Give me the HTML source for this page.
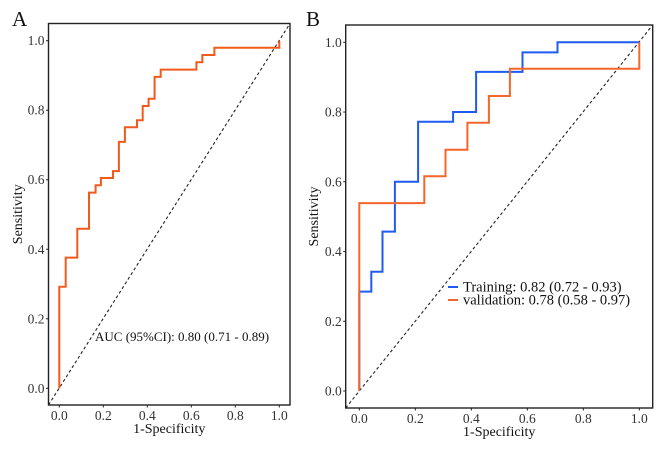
<!DOCTYPE html>
<html><head><meta charset="utf-8"><style>
html,body{margin:0;padding:0;background:#fff;}
svg{display:block;font-family:"Liberation Serif","DejaVu Serif",serif;}
</style></head><body>
<svg id="c" width="669" height="459" viewBox="0 0 669 459"></svg>
<script>
// Panel A data (fpr, sensitivity step points)
const aFpr  = [0,0,0.029,0.029,0.082,0.082,0.135,0.135,0.165,0.165,0.189,0.189,0.244,0.244,0.271,0.271,0.298,0.298,0.353,0.353,0.379,0.379,0.406,0.406,0.433,0.433,0.461,0.461,0.623,0.623,0.65,0.65,0.705,0.705,1.0,1.0];
const aSens = [0,0.292,0.292,0.376,0.376,0.459,0.459,0.563,0.563,0.584,0.584,0.605,0.605,0.625,0.625,0.709,0.709,0.751,0.751,0.771,0.771,0.812,0.812,0.833,0.833,0.896,0.896,0.917,0.917,0.938,0.938,0.959,0.959,0.98,0.98,1.0];
// Panel B data
const trFpr  = [0,0,0.043,0.043,0.083,0.083,0.127,0.127,0.21,0.21,0.335,0.335,0.417,0.417,0.583,0.583,0.708,0.708,1.0];
const trSens = [0,0.285,0.285,0.342,0.342,0.457,0.457,0.600,0.600,0.772,0.772,0.800,0.800,0.915,0.915,0.971,0.971,1.0,1.0];
const vaFpr  = [0,0,0.232,0.232,0.308,0.308,0.386,0.386,0.463,0.463,0.538,0.538,1.0,1.0];
const vaSens = [0,0.539,0.539,0.616,0.616,0.692,0.692,0.769,0.769,0.846,0.846,0.924,0.924,1.0];
const ticks = [0,0.2,0.4,0.6,0.8,1.0];
const tickLabels = ["0.0","0.2","0.4","0.6","0.8","1.0"];

const NS="http://www.w3.org/2000/svg";
const svg=document.getElementById('c');
function mk(tag,attrs,parent){const e=document.createElementNS(NS,tag);for(const k in attrs)e.setAttribute(k,attrs[k]);(parent||svg).appendChild(e);return e;}

function panel(p){
  const g=mk('g',{});
  
  
  const sx=v=>p.x0+v*(p.x1-p.x0), sy=v=>p.y0+v*(p.y1-p.y0);
  const d=mk('line',{x1:p.bx0,y1:p.by1,x2:p.bx1,y2:p.by0,stroke:'#222','stroke-width':1.1,'stroke-dasharray':'3,2.5'},g);
  
  
  p.series.forEach(s=>{
    let pts=s.x.map((v,i)=>sx(v).toFixed(1)+','+sy(s.y[i]).toFixed(1)).join(' ');
    const pl=mk('polyline',{points:pts,fill:'none',stroke:s.color,'stroke-width':2},g);
    
    
  });
  const r=mk('rect',{x:p.bx0,y:p.by0,width:p.bx1-p.bx0,height:p.by1-p.by0,fill:'none',stroke:'#222','stroke-width':1.4},g);
  
  
  ticks.forEach((t,i)=>{
    mk('line',{x1:p.bx0-2.5,x2:p.bx0,y1:sy(t),y2:sy(t),stroke:'#222','stroke-width':1},g);
    mk('line',{x1:sx(t),x2:sx(t),y1:p.by1,y2:p.by1+2.5,stroke:'#222','stroke-width':1},g);
    const ty=mk('text',{x:p.bx0-4,y:sy(t)+4.5,'text-anchor':'end','font-size':13.5,fill:'#333'},g);
    ty.textContent=tickLabels[i];
    
    
    const tx=mk('text',{x:sx(t),y:p.by1+15,'text-anchor':'middle','font-size':13.5,fill:'#333'},g);
    tx.textContent=tickLabels[i];
    
    
  });
  const xt=mk('text',{x:(p.bx0+p.bx1)/2,y:p.by1+28,'text-anchor':'middle','font-size':14,fill:'#111'},g);
  xt.textContent='1-Specificity';
  
  
  const cy=(p.by0+p.by1)/2;
  const yt=mk('text',{x:p.ytx,y:cy,'text-anchor':'middle','font-size':14,fill:'#111',transform:'rotate(-90 '+p.ytx+' '+cy+')'},g);
  yt.textContent='Sensitivity';
  
  
  const lt=mk('text',{x:p.lx,y:p.ly,'font-size':21,fill:'#111'},g);
  lt.textContent=p.letter;
  
  
  return g;
}

const gA=panel({name:'panel-a',letter:'A',lx:12,ly:26,ytx:22,
  x0:59.3,x1:279.3,y0:388.3,y1:40.7,bx0:48.5,bx1:290,by0:23.5,by1:405,
  series:[{name:'roc-curve',x:aFpr,y:aSens,color:'#f25a1c'}]});
const auc=mk('text',{x:95,y:341,'font-size':13,fill:'#111'},gA);
auc.textContent='AUC (95%CI): 0.80 (0.71 - 0.89)';



const gB=panel({name:'panel-b',letter:'B',lx:306,ly:26,ytx:318,
  x0:359.3,x1:639.3,y0:391,y1:42.3,bx0:345.7,bx1:652.7,by0:25,by1:408,
  series:[{name:'training-curve',x:trFpr,y:trSens,color:'#1f5af2'},{name:'validation-curve',x:vaFpr,y:vaSens,color:'#f4662c'}]});
const leg=[['Training: 0.82 (0.72 - 0.93)','#1f5af2',287,'legend-training'],['validation: 0.78 (0.58 - 0.97)','#f4662c',300,'legend-validation']];
leg.forEach(l=>{
  const lg=mk('g',{},gB);
  
  
  mk('line',{x1:448,x2:458,y1:l[2],y2:l[2],stroke:l[1],'stroke-width':2},lg);
  const t=mk('text',{x:463,y:l[2]+4.5,'font-size':14.5,fill:'#111'},lg);
  t.textContent=l[0];
});
</script>
</body></html>
